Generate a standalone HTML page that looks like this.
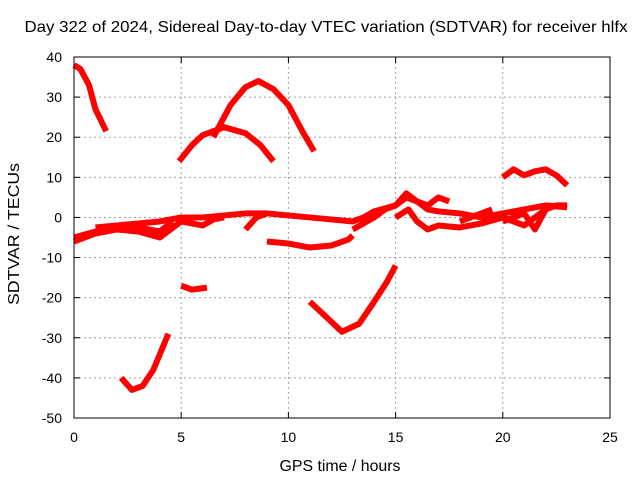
<!DOCTYPE html>
<html><head><meta charset="utf-8"><style>
body{margin:0;background:#fff}
svg text{font-family:"Liberation Sans",sans-serif;font-size:14px;fill:#000}
</style></head><body>
<svg id="chart" width="640" height="480">
<text x="326" y="32" text-anchor="middle" textLength="603" lengthAdjust="spacingAndGlyphs" style="font-size:16px">Day 322 of 2024, Sidereal Day-to-day VTEC variation (SDTVAR) for receiver hlfx</text>
<text x="340" y="471" text-anchor="middle" textLength="121" lengthAdjust="spacingAndGlyphs" style="font-size:15.5px">GPS time / hours</text>
<text transform="translate(19,234) rotate(-90)" text-anchor="middle" textLength="142" lengthAdjust="spacingAndGlyphs" style="font-size:15.5px">SDTVAR / TECUs</text>
<g id="grid"></g><g id="series"></g>
<rect x="74" y="57" width="536" height="361" fill="none" stroke="#000"/>
</svg>
<script>
const xTicks=[0,5,10,15,20,25];
const yTicks=[40,30,20,10,0,-10,-20,-30,-40,-50];
const s1=[[0,38],[0.3,37],[0.7,33],[1.0,27],[1.5,21.5]];
const s2=[[4.9,14],[5.5,18],[6,20.5],[7,22.5],[8,21],[8.7,18],[9.3,14]];
const s3=[[6.5,20],[7.3,28],[8,32.5],[8.6,34],[9.3,32],[10,28],[10.7,21],[11.2,16.5]];
const s4=[[20,10],[20.5,12],[21,10.5],[21.5,11.5],[22,12],[22.5,10.5],[23,8]];
const s5=[[5,-17],[5.5,-18],[6.2,-17.5]];
const s6=[[2.2,-40],[2.7,-43],[3.2,-42],[3.7,-38],[4.4,-29]];
const s7=[[11,-21],[11.8,-25],[12.5,-28.5],[13.3,-26.5],[14,-21],[14.6,-16],[15,-12]];
const s8=[[9,-6],[10,-6.5],[11,-7.5],[12,-7],[12.8,-5.5],[13,-4.5]];
const l1=[[0,-5],[1,-3.5],[2,-2],[3,-1.5],[4,-1],[5,0],[6,0],[7,0.5],[8,1],[9,1],[10,0.5],[11,0],[12,-0.5],[13,-1],[13.5,0],[14,1.5],[15,3],[15.5,5],[16,4],[16.5,2],[17,1.5],[18,1],[19,0],[20,1],[21,2],[22,3],[23,2.5]];
const l2=[[0,-6],[1,-4],[2,-3],[3,-3.5],[4,-5],[4.5,-3],[5,-1],[6,-2],[6.5,-0.5],[7,0]];
const l3=[[15,0],[15.6,2],[16,-1],[16.5,-3],[17,-2],[18,-2.5],[19,-1.5],[20,0],[21,-2],[22,2]];
const l4=[[13,-3],[14,0],[14.5,2],[15,3],[15.5,6],[16,4],[16.5,3],[17,5],[17.5,4]];
const l5=[[8,-3],[8.5,0],[9,1]];
const l6=[[1,-2.5],[2,-2],[3,-2.5],[4,-3.5],[4.6,-1]];
const l7=[[18,-1],[19,1],[19.5,2]];
const l8=[[20,-1],[21,1],[21.5,-3],[22,2],[22.5,3],[23,3]];
const allSeries=[s1,s2,s3,s4,s5,s6,s7,s8,l1,l2,l3,l4,l5,l6,l7,l8];
const X=t=>74+t*536/25, Y=v=>57+(40-v)*361/90;
const NS='http://www.w3.org/2000/svg';
const grid=document.getElementById('grid'), ser=document.getElementById('series');
function mk(tag,attrs,parent){const e=document.createElementNS(NS,tag);for(const k in attrs)e.setAttribute(k,attrs[k]);parent.appendChild(e);return e;}
xTicks.forEach(t=>{
 if(t>0&&t<25){const g=mk('line',{x1:X(t),x2:X(t),y1:57,y2:418,stroke:'#a0a0a0','stroke-dasharray':'2,3'},grid);
 
 }
 mk('line',{x1:X(t),x2:X(t),y1:418,y2:412,stroke:'#000'},grid);
 mk('line',{x1:X(t),x2:X(t),y1:57,y2:63,stroke:'#000'},grid);
 const tx=mk('text',{x:X(t),y:442,'text-anchor':'middle'},grid);tx.textContent=t;
 
 
});
yTicks.forEach(v=>{
 if(v<40&&v>-50){const g=mk('line',{x1:74,x2:610,y1:Y(v),y2:Y(v),stroke:'#a0a0a0','stroke-dasharray':'2,3'},grid);
 
 }
 mk('line',{x1:74,x2:80,y1:Y(v),y2:Y(v),stroke:'#000'},grid);
 mk('line',{x1:604,x2:610,y1:Y(v),y2:Y(v),stroke:'#000'},grid);
 const tx=mk('text',{x:62,y:Y(v)+5,'text-anchor':'end'},grid);tx.textContent=v;
 
 
});
allSeries.forEach(s=>{
 const p=mk('polyline',{points:s.map(d=>X(d[0])+','+Y(d[1])).join(' '),fill:'none',stroke:'#ff0000','stroke-width':6,'stroke-linejoin':'round'},ser);
 
 
});
</script>
</body></html>
